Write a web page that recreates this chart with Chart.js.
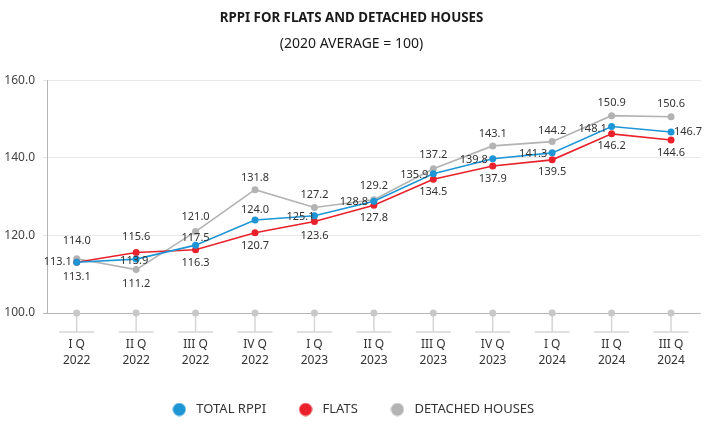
<!DOCTYPE html>
<html>
<head>
<meta charset="utf-8">
<title>RPPI for flats and detached houses</title>
<script src="https://cdn.jsdelivr.net/npm/chart.js"></script>
<style>
    html, body { margin: 0; padding: 0; background: #ffffff; }
    #wrap { width: 708px; height: 430px; position: relative; }
</style>
</head>
<body>
<div id="wrap"><canvas id="rppi-chart"></canvas></div>
<script>
// 数据
const quarters = ['I Q', 'II Q', 'III Q', 'IV Q', 'I Q', 'II Q', 'III Q', 'IV Q', 'I Q', 'II Q', 'III Q'];
const years = ['2022', '2022', '2022', '2022', '2023', '2023', '2023', '2023', '2024', '2024', '2024'];
const totalRppi = [113.1, 113.9, 117.5, 124.0, 125.1, 128.8, 135.9, 139.8, 141.3, 148.1, 146.7];
const flats = [113.1, 115.6, 116.3, 120.7, 123.6, 127.8, 134.5, 137.9, 139.5, 146.2, 144.6];
const detachedHouses = [114.0, 111.2, 121.0, 131.8, 127.2, 129.2, 137.2, 143.1, 144.2, 150.9, 150.6];
const yTicks = [100, 120, 140, 160];

// 数值标签偏移 (dx, dy)，只是样式
const totalLabelOffsets = [[-19, 0], [-2, 2], [0, -7], [0, -10], [-14, 1], [-20, 1], [-19, 1], [-19, 1], [-19, 1], [-19, 2], [17, 0]];
const flatsLabelOffsets = [[0, 15], [0, -16], [0, 13], [0, 13], [0, 14], [0, 13], [0, 13], [0, 13], [0, 12], [0, 12], [0, 13]];
const housesLabelOffsets = [[0, -18], [0, 14], [0, -15], [0, -12], [0, -13], [0, -14], [0, -14], [0, -12], [0, -11], [0, -13], [0, -13]];

const BLUE = '#1e96d6';
const RED = '#e8212b';
const GREY = '#b3b3b3';
const FONT = "'Noto Sans', sans-serif";

Chart.defaults.font.family = FONT;
Chart.defaults.color = '#333';

// 图例圆点
function legendDot(color) {
    const c = document.createElement('canvas');
    c.width = 14;
    c.height = 14;
    const g = c.getContext('2d');
    g.fillStyle = color;
    g.beginPath();
    g.arc(7, 7, 6.5, 0, Math.PI * 2);
    g.fill();
    return c;
}
const legendDots = [legendDot(BLUE), legendDot(RED), legendDot(GREY)];

// x轴上的小圆点和刻度线
const axisMarks = {
    id: 'axisMarks',
    beforeDatasetsDraw(chart) {
        const ctx = chart.ctx;
        const x = chart.scales.x;
        const y0 = chart.scales.y.getPixelForValue(yTicks[0]);
        ctx.save();
        for (let i = 0; i < quarters.length; i++) {
            const px = x.getPixelForValue(i);
            ctx.strokeStyle = '#d6d6d6';
            ctx.lineWidth = 1.5;
            ctx.beginPath();
            ctx.moveTo(px, y0);
            ctx.lineTo(px, y0 + 19);
            ctx.moveTo(px - 17.5, y0 + 19);
            ctx.lineTo(px + 17.5, y0 + 19);
            ctx.stroke();
            ctx.fillStyle = '#c8c8c8';
            ctx.beginPath();
            ctx.arc(px, y0, 3.5, 0, Math.PI * 2);
            ctx.fill();
        }
        ctx.restore();
    }
};

// 数值标签
const valueLabels = {
    id: 'valueLabels',
    afterDatasetsDraw(chart) {
        const ctx = chart.ctx;
        const offsets = [totalLabelOffsets, flatsLabelOffsets, housesLabelOffsets];
        ctx.save();
        ctx.font = "11px " + FONT;
        ctx.fillStyle = '#333';
        ctx.textAlign = 'center';
        ctx.textBaseline = 'middle';
        chart.data.datasets.forEach((ds, di) => {
            const meta = chart.getDatasetMeta(di);
            meta.data.forEach((pt, i) => {
                const off = offsets[di][i];
                ctx.fillText(ds.data[i].toFixed(1), pt.x + off[0], pt.y + off[1]);
            });
        });
        ctx.restore();
    }
};

function makeSeries(label, data, color) {
    return {
        label: label,
        data: data,
        borderColor: color,
        backgroundColor: color,
        borderWidth: 1.6,
        pointRadius: 3.5,
        pointBorderWidth: 0,
        pointBackgroundColor: color,
        tension: 0
    };
}

const ctx = document.getElementById('rppi-chart');
new Chart(ctx, {
    type: 'line',
    data: {
        labels: quarters.map((q, i) => [q, years[i]]),
        datasets: [
            makeSeries('TOTAL RPPI', totalRppi, BLUE),
            makeSeries('FLATS', flats, RED),
            makeSeries('DETACHED HOUSES', detachedHouses, GREY)
        ]
    },
    options: {
        responsive: true,
        maintainAspectRatio: false,
        animation: false,
        layout: { padding: { left: 0, right: 5, top: 0, bottom: 4 } },
        plugins: {
            title: {
                display: true,
                text: 'RPPI FOR FLATS AND DETACHED HOUSES',
                color: '#1a1a1a',
                font: { family: FONT, size: 13.3, weight: 'bold' },
                padding: { top: 10, bottom: 10 }
            },
            subtitle: {
                display: true,
                text: '(2020 AVERAGE = 100)',
                color: '#1a1a1a',
                font: { family: FONT, size: 14 },
                padding: { top: 0, bottom: 27.6 }
            },
            legend: {
                position: 'bottom',
                maxHeight: 57,
                labels: {
                    usePointStyle: true,
                    pointStyleWidth: 21,
                    padding: 29,
                    color: '#333',
                    font: { family: FONT, size: 13 },
                    generateLabels(chart) {
                        const items = Chart.defaults.plugins.legend.labels.generateLabels(chart);
                        items.forEach((it, i) => { it.pointStyle = legendDots[i]; });
                        return items;
                    }
                }
            },
            tooltip: { enabled: false }
        },
        scales: {
            x: {
                offset: true,
                grid: { display: false, drawTicks: false },
                border: { display: false },
                ticks: {
                    padding: 23,
                    color: '#333',
                    font: { family: FONT, size: 12, lineHeight: 1.35 }
                },
                afterFit(scale) { scale.height = 61; }
            },
            y: {
                min: 100,
                max: 160,
                afterBuildTicks(scale) {
                    scale.ticks = yTicks.map(v => ({ value: v }));
                },
                grid: {
                    color: c => (c.tick && c.tick.value === 100 ? '#b5b5b5' : '#e8e8e8'),
                    tickLength: 4
                },
                border: { display: true, color: '#b5b5b5' },
                ticks: {
                    padding: 8,
                    color: '#444',
                    font: { family: FONT, size: 12 },
                    callback: v => Number(v).toFixed(1)
                },
                afterFit(scale) { scale.width = 47; }
            }
        }
    },
    plugins: [axisMarks, valueLabels]
});
</script>
</body>
</html>
